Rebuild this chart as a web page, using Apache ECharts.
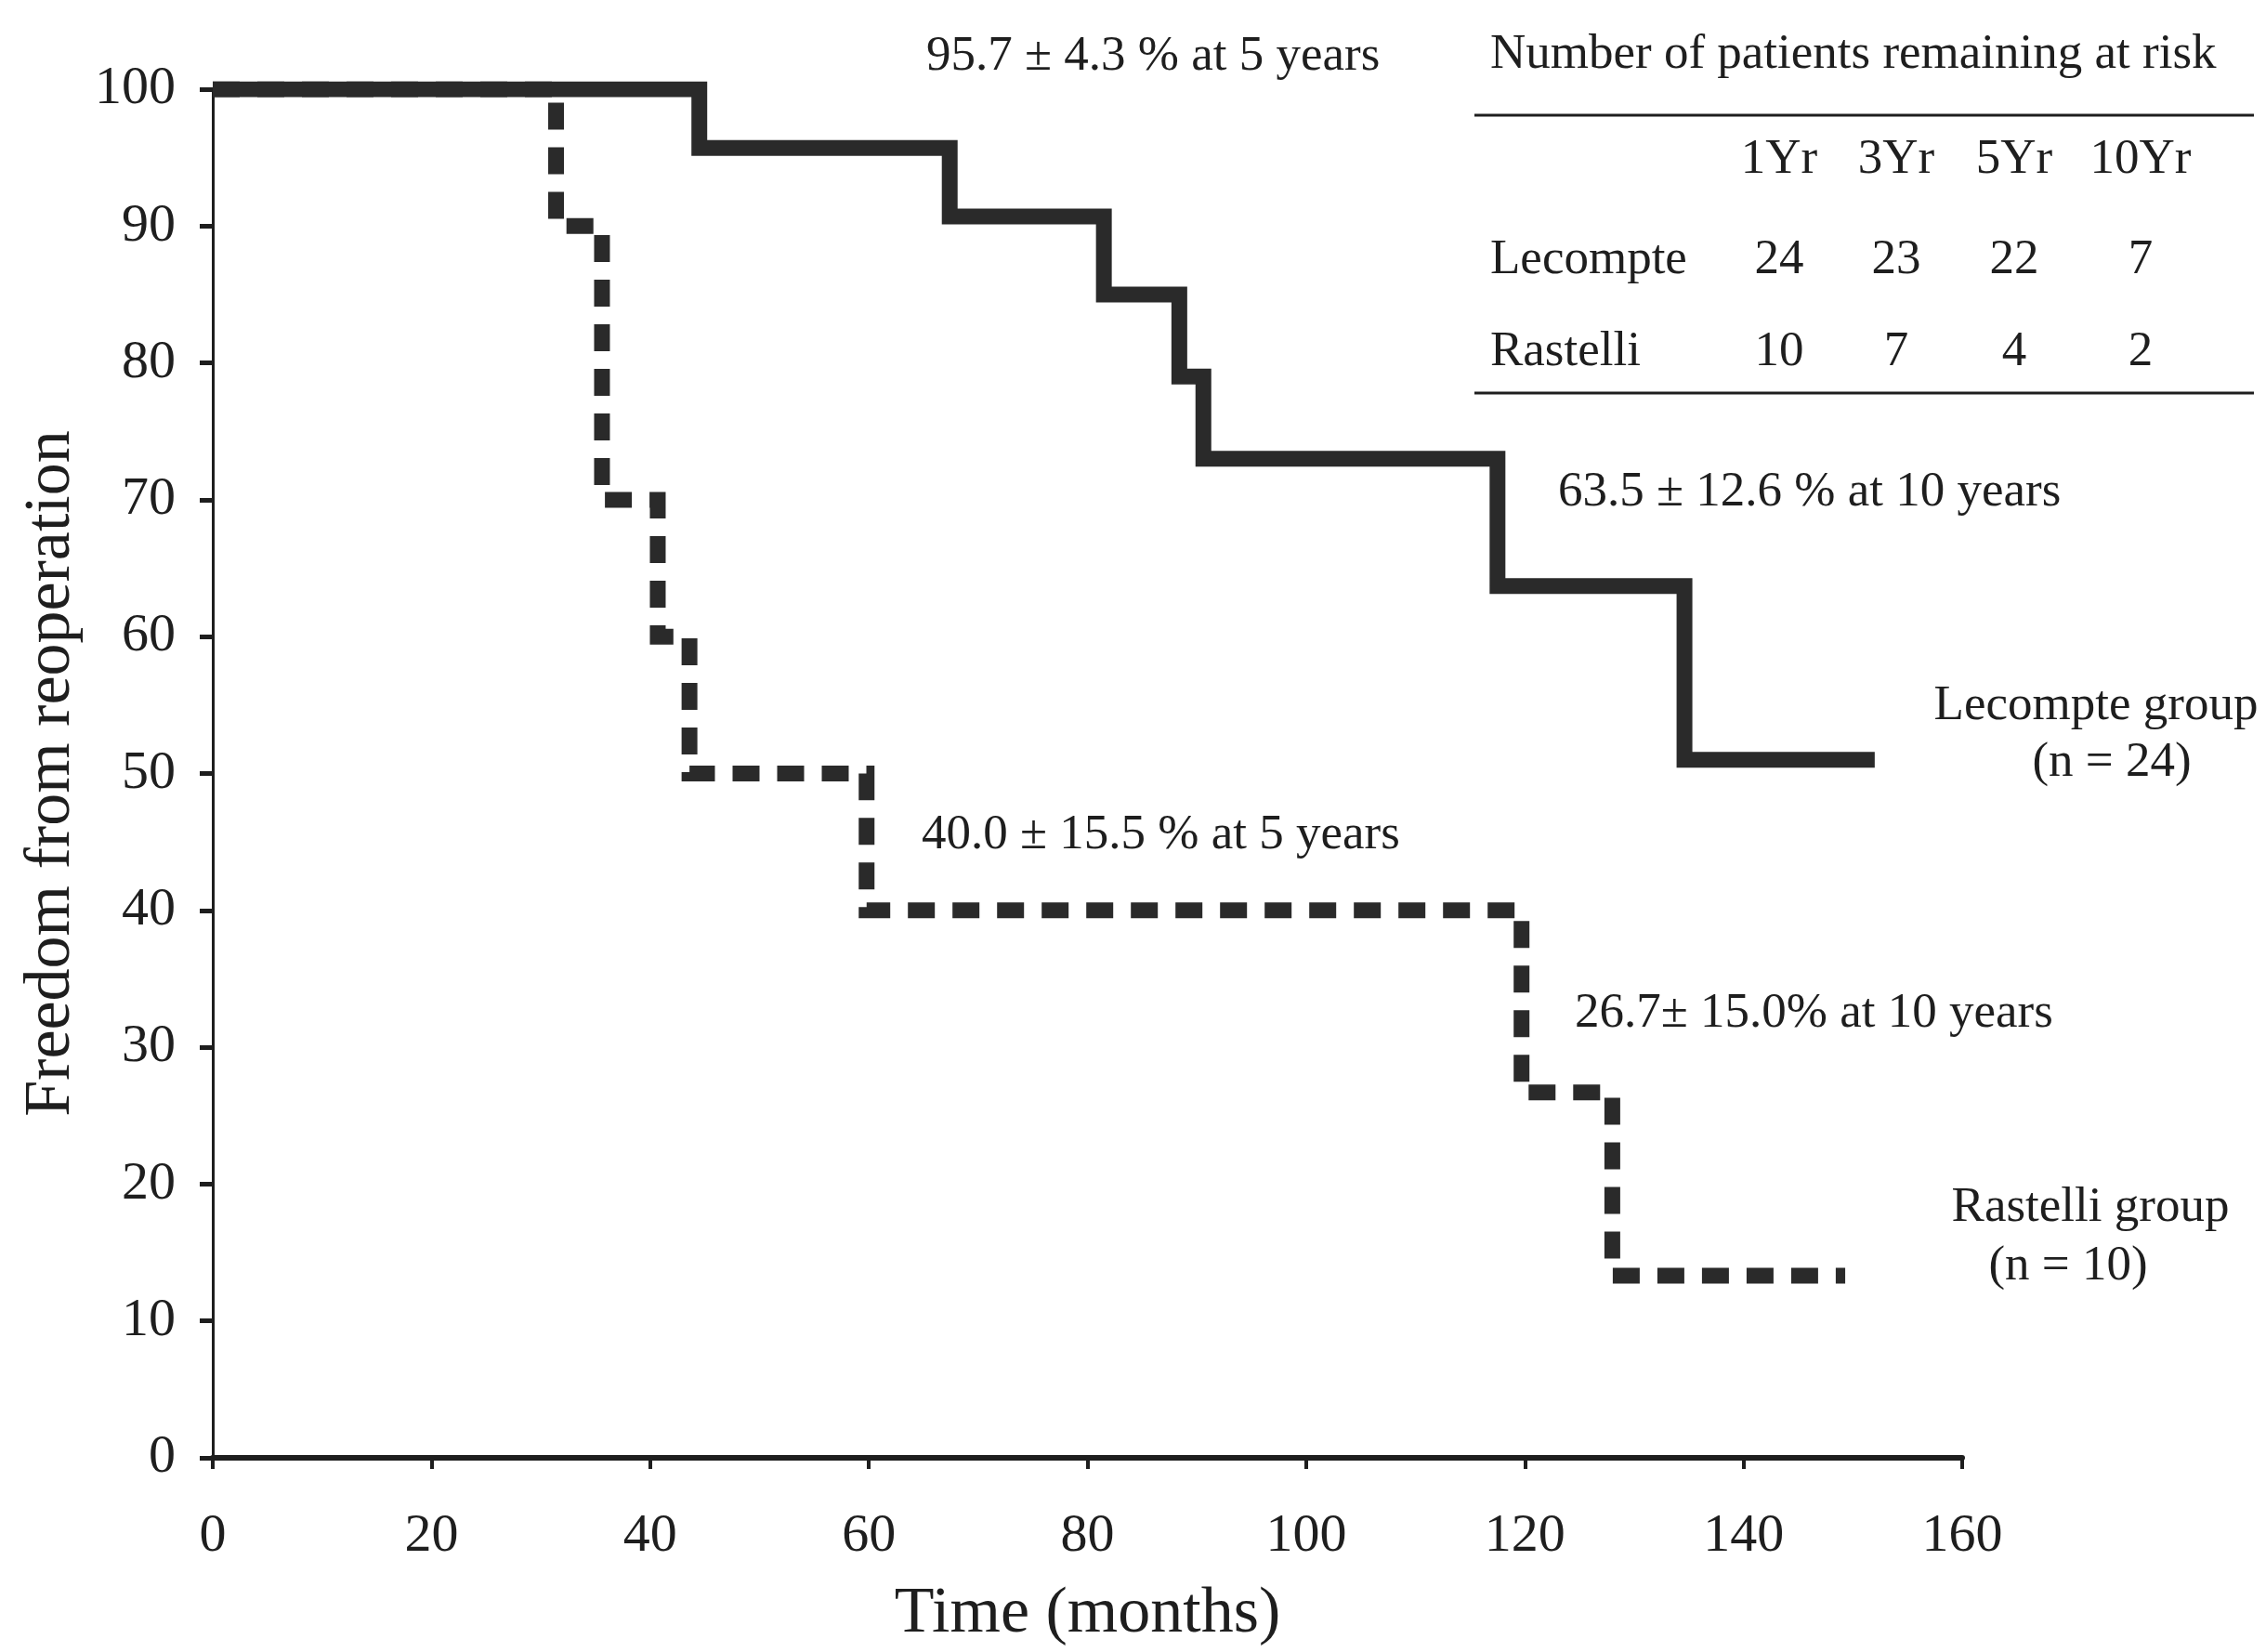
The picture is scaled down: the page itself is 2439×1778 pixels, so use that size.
<!DOCTYPE html>
<html>
<head>
<meta charset="utf-8">
<script src="https://cdn.jsdelivr.net/npm/echarts@6/dist/echarts.min.js"></script>
<style>
html,body{margin:0;padding:0;background:#fff;}
#chart{width:2439px;height:1778px;}
</style>
</head>
<body>
<div id="chart"></div>
<script>
// ---- data ----
const lecompteTime    = [0, 44.5, 67.4, 81.5, 88.4, 90.6, 117.5, 134.6, 152.0];
const lecompteFreedom = [100, 95.7, 90.7, 85.0, 79.0, 73.0, 63.7, 51.0, 51.0];
const rastelliTime    = [0, 31.4, 35.6, 40.7, 43.6, 59.8, 119.7, 128.0, 149.3];
const rastelliFreedom = [100, 90, 70, 60, 50, 40, 26.7, 13.3, 13.3];

const riskYears    = ['1Yr', '3Yr', '5Yr', '10Yr'];
const riskGroups   = ['Lecompte', 'Rastelli'];
const riskLecompte = [24, 23, 22, 7];
const riskRastelli = [10, 7, 4, 2];

const annotations = [
  '95.7 \u00b1 4.3 % at 5 years',
  '63.5 \u00b1 12.6 % at 10 years',
  '40.0 \u00b1 15.5 % at 5 years',
  '26.7\u00b1 15.0% at 10 years'
];
const groupLabels = ['Lecompte group', '(n = 24)', 'Rastelli group', '(n = 10)'];
const xTitle = 'Time (months)';
const yTitle = 'Freedom from reoperation';
const tableTitle = 'Number of patients remaining at risk';

// ---- styling / layout ----
const FONT = 'Liberation Serif';
const INK = '#1e1e1e';
const LINE = '#2a2a2a';
const TF = 53;

const chart = echarts.init(document.getElementById('chart'), null, {renderer: 'canvas'});

function txt(x, y, s, align, size) {
  return {
    type: 'text', x: x, y: y, silent: true,
    style: {text: s, fill: INK, font: (size || TF) + 'px "' + FONT + '"',
            align: align || 'left', verticalAlign: 'middle'}
  };
}

const colX = [1915, 2041, 2168, 2304];
const graphics = [];
graphics.push(txt(1604, 59, tableTitle, 'left'));
graphics.push({type: 'line', silent: true, shape: {x1: 1587, y1: 124, x2: 2426, y2: 124}, style: {stroke: INK, lineWidth: 3}});
graphics.push({type: 'line', silent: true, shape: {x1: 1587, y1: 423, x2: 2426, y2: 423}, style: {stroke: INK, lineWidth: 3}});
riskYears.forEach((t, i) => graphics.push(txt(colX[i], 172, t, 'center')));
graphics.push(txt(1604, 280, riskGroups[0], 'left'));
graphics.push(txt(1604, 379, riskGroups[1], 'left'));
riskLecompte.forEach((v, i) => graphics.push(txt(colX[i], 280, String(v), 'center')));
riskRastelli.forEach((v, i) => graphics.push(txt(colX[i], 379, String(v), 'center')));

graphics.push(txt(997, 61, annotations[0], 'left'));
graphics.push(txt(1677, 530, annotations[1], 'left'));
graphics.push(txt(992, 899, annotations[2], 'left'));
graphics.push(txt(1695, 1091, annotations[3], 'left'));
graphics.push(txt(2256, 760, groupLabels[0], 'center'));
graphics.push(txt(2273, 821, groupLabels[1], 'center'));
graphics.push(txt(2250, 1300, groupLabels[2], 'center'));
graphics.push(txt(2226, 1363, groupLabels[3], 'center'));

const option = {
  backgroundColor: '#ffffff',
  animation: false,
  grid: {left: 229, right: 327, top: 96, bottom: 204, containLabel: false},
  xAxis: {
    type: 'value', min: 0, max: 160, interval: 20,
    name: xTitle, nameLocation: 'middle', nameGap: 134,
    nameTextStyle: {fontFamily: FONT, fontSize: 70, color: INK},
    axisLine: {show: true, onZero: false, lineStyle: {color: INK, width: 6}},
    axisTick: {show: true, inside: false, length: 12, lineStyle: {color: INK, width: 4}},
    axisLabel: {fontFamily: FONT, fontSize: 58, color: INK, margin: 56},
    splitLine: {show: false}
  },
  yAxis: {
    type: 'value', min: 0, max: 100, interval: 10,
    name: yTitle, nameLocation: 'middle', nameGap: 134,
    nameTextStyle: {fontFamily: FONT, fontSize: 70, color: INK},
    axisLine: {show: true, lineStyle: {color: INK, width: 3}},
    axisTick: {show: true, inside: false, length: 14, lineStyle: {color: INK, width: 5}},
    axisLabel: {fontFamily: FONT, fontSize: 58, color: INK, margin: 40},
    splitLine: {show: false}
  },
  series: [
    {
      name: 'Rastelli', type: 'line', step: 'end', showSymbol: false, silent: true,
      data: rastelliTime.map((t, i) => [t, rastelliFreedom[i]]),
      lineStyle: {color: LINE, width: 17, type: [29, 19], cap: 'butt', join: 'miter'},
      z: 2
    },
    {
      name: 'Lecompte', type: 'line', step: 'end', showSymbol: false, silent: true,
      data: lecompteTime.map((t, i) => [t, lecompteFreedom[i]]),
      lineStyle: {color: LINE, width: 17, type: 'solid', cap: 'butt', join: 'miter'},
      z: 3
    }
  ],
  graphic: graphics
};
chart.setOption(option);
</script>
</body>
</html>
